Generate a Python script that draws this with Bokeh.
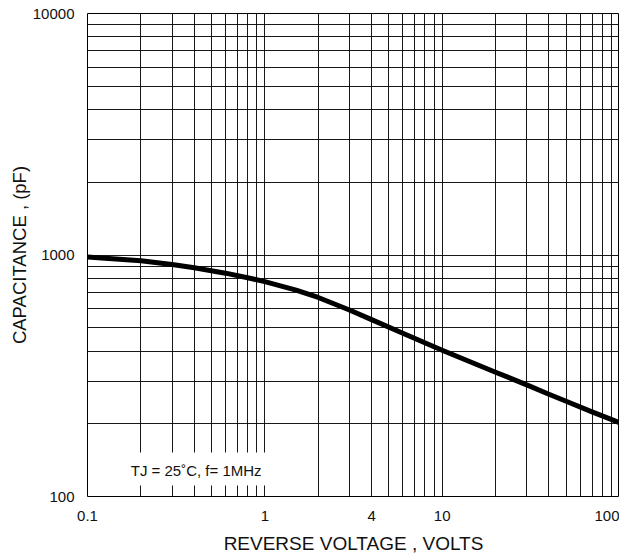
from bokeh.plotting import figure
from bokeh.models import FixedTicker, CustomJSTickFormatter, BoxAnnotation, Title
from bokeh.core.properties import value
from bokeh.embed import file_html
from bokeh.resources import INLINE

# ---- data ----
voltage = [0.1, 0.2, 0.3, 0.4, 0.6, 0.8, 1, 1.5, 2, 3, 4, 6, 10, 20, 30, 40, 50, 70, 100]
capacitance = [980, 946, 914, 885, 841, 805, 776, 716, 667, 592, 540, 474, 403, 327, 290, 265, 248, 224, 202]

x_tick_labels = [0.1, 1, 4, 10, 100]
y_tick_labels = [100, 1000, 10000]
x_grid_values = [0.2, 0.3, 0.4, 0.5, 0.6, 0.7, 0.8, 0.9, 1, 2, 3, 4, 5, 6, 7, 8, 9, 10,
                 20, 30, 40, 50, 60, 70, 80, 90]
y_grid_values = [200, 300, 400, 500, 600, 700, 800, 900, 1000,
                 2000, 3000, 4000, 5000, 6000, 7000, 8000, 9000]

note_text = "TJ = 25\u02daC, f= 1MHz"
note_x = 0.41
note_y = 128
note_box = dict(left=0.1025, right=1.06, bottom=111, top=152)

FONT = "Liberation Sans"

p = figure(width=619, height=556, x_axis_type="log", y_axis_type="log",
           x_range=(0.1, 100), y_range=(100, 10000),
           output_backend="svg", toolbar_location=None,
           min_border_left=87, min_border_right=0, min_border_top=13, min_border_bottom=54)

p.background_fill_color = "white"
p.border_fill_color = "white"
p.outline_line_color = "black"
p.outline_line_width = 1

p.xgrid.ticker = FixedTicker(ticks=x_grid_values)
p.ygrid.ticker = FixedTicker(ticks=y_grid_values)
for g in (p.xgrid, p.ygrid):
    g.grid_line_color = "black"
    g.grid_line_width = 1
    g.grid_line_alpha = 0.9

fmt = "return tick.toString();"
p.xaxis.ticker = FixedTicker(ticks=x_tick_labels)
p.yaxis.ticker = FixedTicker(ticks=y_tick_labels)
p.xaxis.formatter = CustomJSTickFormatter(code=fmt)
p.yaxis.formatter = CustomJSTickFormatter(code=fmt)

for ax in (p.xaxis, p.yaxis):
    ax.axis_line_color = None
    ax.major_tick_line_color = None
    ax.minor_tick_line_color = None
    ax.major_tick_in = 0
    ax.major_tick_out = 0
    ax.major_label_text_font = FONT
    ax.major_label_text_font_size = "15px"
    ax.major_label_text_color = "#111111"

p.yaxis.major_label_standoff = 13
p.xaxis.major_label_standoff = 14

p.xaxis.axis_label = "REVERSE VOLTAGE , VOLTS"
p.xaxis.axis_label_text_font = FONT
p.xaxis.axis_label_text_font_size = "19px"
p.xaxis.axis_label_text_font_style = "normal"
p.xaxis.axis_label_text_color = "#111111"
p.xaxis.axis_label_standoff = 9

ytitle = Title(text="CAPACITANCE , (pF)", align="center", offset=15,
               text_font=FONT, text_font_size="18.5px", text_font_style="normal",
               text_color="#111111", standoff=0)
p.add_layout(ytitle, "left")

box = BoxAnnotation(fill_color="white", fill_alpha=1.0, line_color=None,
                    level="underlay", **note_box)
p.add_layout(box)

p.text(x=[note_x], y=[note_y], text=[note_text], text_font=value(FONT),
       text_font_size="15px", text_align="center", text_baseline="middle",
       text_color="#111111")

p.line(voltage, capacitance, line_color="black", line_width=5, line_cap="round",
       line_join="round")

open("out.html", "w").write(file_html(p, INLINE))
